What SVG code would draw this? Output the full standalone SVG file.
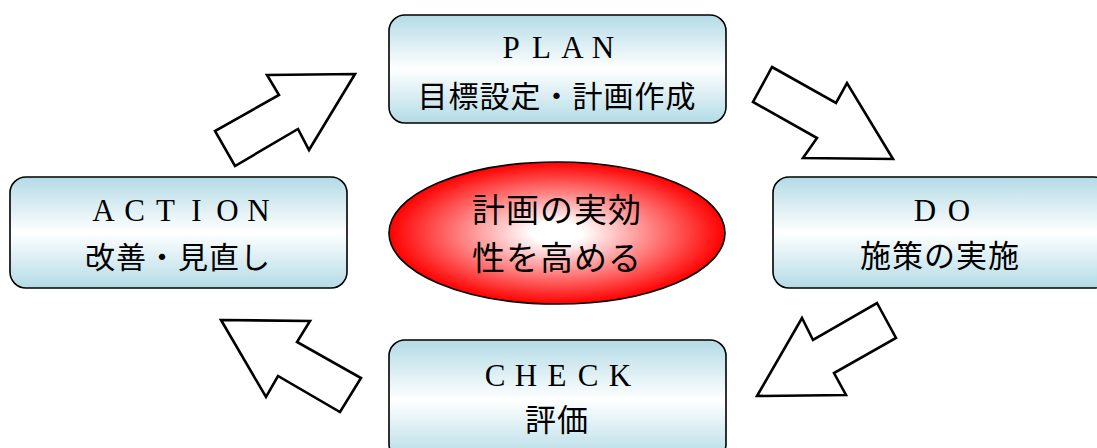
<svg xmlns="http://www.w3.org/2000/svg" width="1097" height="448" viewBox="0 0 1097 448">
<defs>
<linearGradient id="boxGrad" x1="0" y1="0" x2="0" y2="1">
<stop offset="0" stop-color="#b3dbe6"/>
<stop offset="0.5" stop-color="#ffffff"/>
<stop offset="1" stop-color="#b3dbe6"/>
</linearGradient>
<radialGradient id="ellGrad" cx="0.5" cy="0.5" r="0.5">
<stop offset="0" stop-color="#ffffff"/>
<stop offset="0.15" stop-color="#ffffff"/>
<stop offset="1" stop-color="#ff0000"/>
</radialGradient>
<style>
.box{fill:url(#boxGrad);stroke:#000;stroke-width:1.6}
.lat{font-family:"Liberation Serif",serif;font-size:31px;fill:#000;text-anchor:middle}
.jp{font-family:"Noto Sans CJK JP",sans-serif;font-size:30px;fill:#000;text-anchor:middle;letter-spacing:1px}
.arrow{fill:#fff;stroke:#000;stroke-width:2.6;stroke-linejoin:miter}
</style>
</defs>
<rect width="1097" height="448" fill="#fff"/>
<g id="connectors">
<polygon class="arrow" points="267,75 355,74 309,150 298,129 235,166 215,131 279,95"/>
<polygon class="arrow" points="772,67 836,103 847,83 893,159 803,158 817,138 753,102"/>
<polygon class="arrow" points="877,303 896,338 834,373 846,395 757,396 802,318 813,340"/>
<polygon class="arrow" points="221,320 310,321 297,342 361,378 340,412 278,376 266,397"/>
</g>
<g id="plan">
<rect class="box" x="389" y="15" width="337" height="108" rx="16"/>
<text class="lat" x="511 541.5 572.5 603" y="58">PLAN</text>
<text class="jp" x="557" y="107">目標設定・計画作成</text>
</g>
<g id="action">
<rect class="box" x="10" y="177" width="337" height="111" rx="16"/>
<text class="lat" x="103.5 134.5 165.5 196.5 227.5 258.5" y="221">ACTION</text>
<text class="jp" x="178" y="268">改善・見直し</text>
</g>
<g id="do">
<rect class="box" x="773" y="177" width="337" height="111" rx="16"/>
<text class="lat" x="925 959" y="221">DO</text>
<text class="jp" x="940" y="267" style="font-size:31px">施策の実施</text>
</g>
<g id="check">
<rect class="box" x="389" y="340" width="337" height="120" rx="16"/>
<text class="lat" x="495 526 557 588 620" y="386">CHECK</text>
<text class="jp" x="557" y="431" style="font-size:31px">評価</text>
</g>
<g id="center">
<ellipse cx="557" cy="233" rx="168" ry="71" fill="url(#ellGrad)" stroke="#000" stroke-width="1.6"/>
<text class="jp" x="557" y="222" style="font-size:33px">計画の実効</text>
<text class="jp" x="557" y="270" style="font-size:33px">性を高める</text>
</g>
</svg>
